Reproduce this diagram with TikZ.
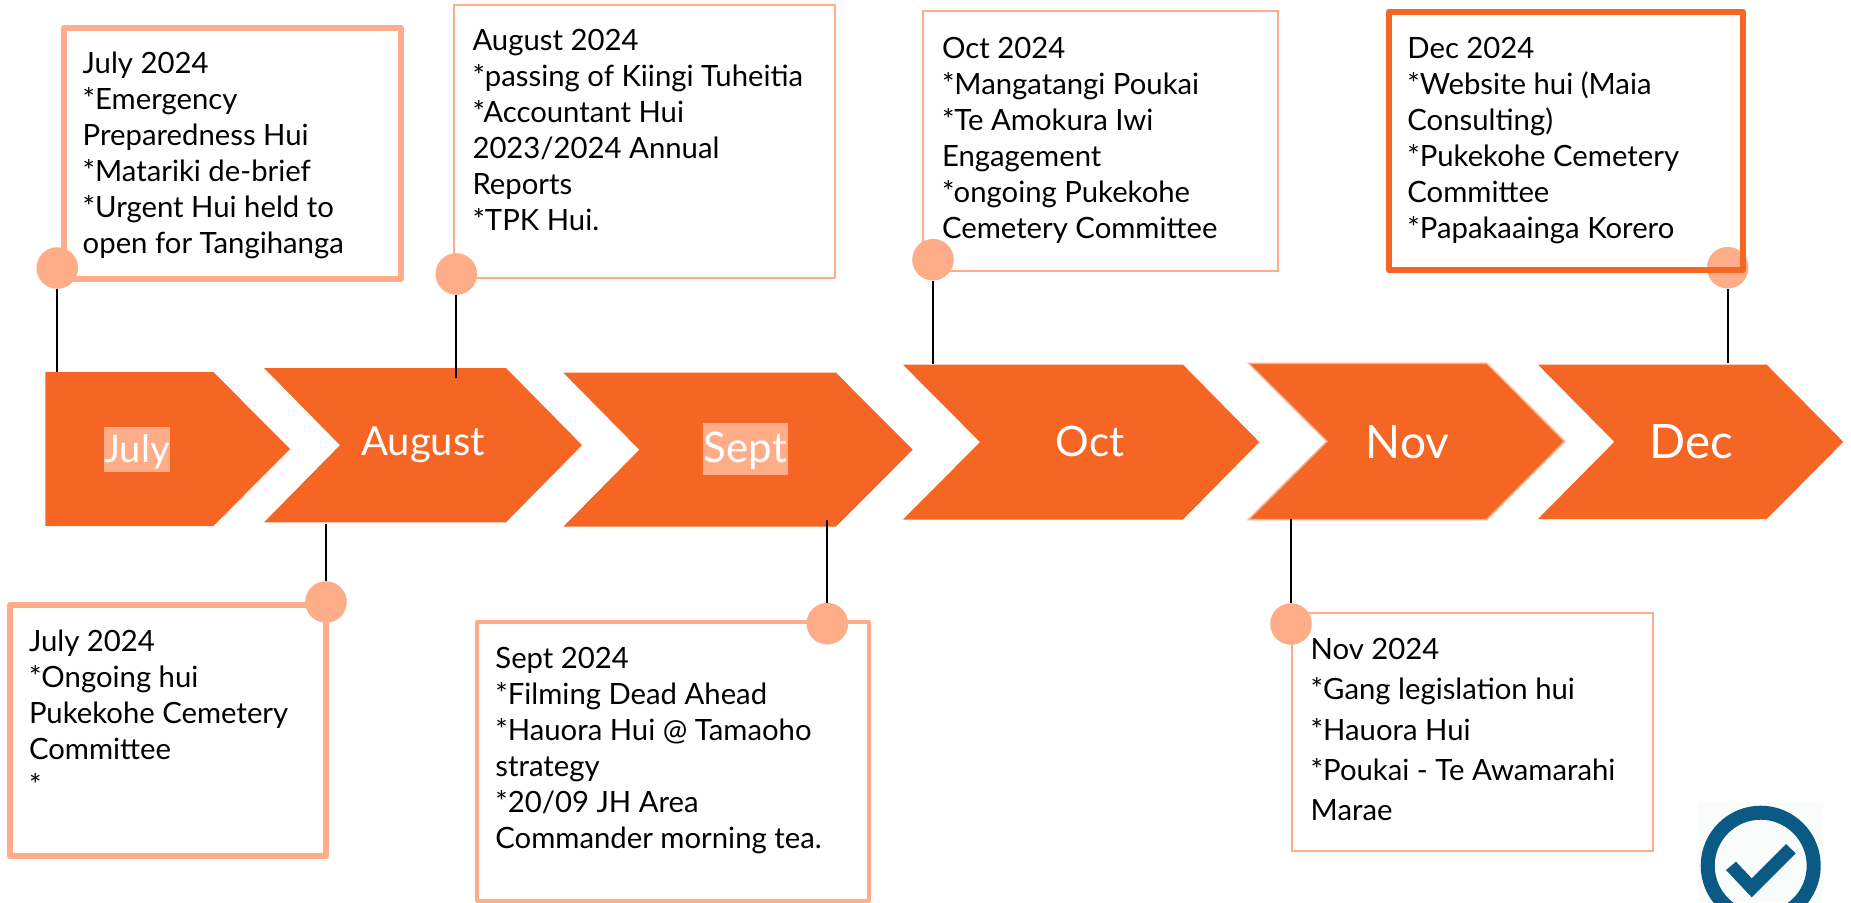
\documentclass[tikz,border=0pt]{standalone}
\usepackage{fontspec}
\setmainfont{Lato}
\definecolor{orangeA}{HTML}{F56624}
\definecolor{peach}{HTML}{FFAD88}
\definecolor{tick}{HTML}{0B5A85}
\newcommand{\fs}{\rule{0pt}{25pt}}
\newcommand{\chevshape}[7]{% name left notch rt tip top bot
  \path[#1] (#2,#6) -- (#4,#6) -- (#5,{(#6+#7)/2}) -- (#4,#7) -- (#2,#7) -- (#3,{(#6+#7)/2}) -- cycle;}
\newcommand{\boxat}[6]{% style name x1 y1 x2 y2
  \node[#1,minimum width={(#5-#3)*1pt},minimum height={(#6-#4)*1pt}] (#2) at ({(#3+#5)/2},{(#4+#6)/2}) {};}
\tikzset{
  chev/.style={fill=orangeA},
  chevedge/.style={fill=orangeA,draw=peach,line width=1.5pt,line join=miter},
  thickbox/.style={draw=peach,line width=5.8pt,line join=round,inner sep=0pt},
  midbox/.style={draw=peach,line width=4pt,line join=round,inner sep=0pt},
  thinbox/.style={draw=peach,line width=2pt,inner sep=0pt},
  darkbox/.style={draw=orangeA,line width=6pt,line join=round,inner sep=0pt},
  dot/.style={circle,fill=peach,minimum size=41.6pt,inner sep=0pt},
  conn/.style={draw=black,line width=1.8pt},
  body/.style={anchor=north west,align=left,inner sep=0pt,text=black,font=\fontsize{29.3}{36}\selectfont},
  bodywide/.style={body,font=\fontsize{29.3}{40.4}\selectfont},
  lab/.style={anchor=base,inner sep=0pt,text=white},
}
\begin{document}
\begin{tikzpicture}[x=1pt,y=-1pt]
\useasboundingbox (0,0) rectangle (1851,902);
\clip (0,0) rectangle (1851,902);
% chevrons
\chevshape{chev}{45.4}{45.4}{213.4}{290}{372}{526}
\chevshape{chev}{264}{340}{506}{582}{368}{522.3}
\chevshape{chev}{563.3}{639.3}{836}{912.7}{372.7}{526.7}
\chevshape{chev}{903}{980}{1183}{1259.3}{364.7}{519.5}
\chevshape{chevedge}{1248.6}{1327}{1486.7}{1564.6}{363.3}{519.5}
\chevshape{chev}{1538}{1614.3}{1766.7}{1843.3}{364.7}{519}
% month labels
\node[lab,fill=peach,minimum width=66pt,text height=35.5pt,text depth=9.5pt,font=\fontsize{38}{44}\selectfont] (julyL) at (137,462.5) {July};
\node[lab,font=\fontsize{40}{44}\selectfont] (augL) at (423,455.5) {August};
\node[lab,fill=peach,minimum width=85pt,text height=39.7pt,text depth=12pt,font=\fontsize{42}{48}\selectfont] (septL) at (745.5,462.7) {Sept};
\node[lab,font=\fontsize{42}{48}\selectfont] (octL) at (1090,456.5) {Oct};
\node[lab,font=\fontsize{46}{52}\selectfont] (novL) at (1407.5,458.3) {Nov};
\node[lab,font=\fontsize{47.5}{52}\selectfont] (decL) at (1691,458.3) {Dec};
% boxes
\boxat{thickbox}{b1}{64.3}{27.6}{400.7}{279}
\boxat{thinbox}{b2}{454}{4.5}{834.5}{277.5}
\boxat{thinbox}{b4}{923.3}{11.2}{1278}{270.5}
\boxat{thickbox}{b7}{10.2}{604.6}{326.2}{856.2}
\boxat{midbox}{b8}{477.3}{622}{869.3}{900.5}
\boxat{thinbox}{b9}{1292}{612.8}{1653}{850.7}
% dots
\node[dot] (d1) at (57.3,268) {};
\node[dot] (d2) at (456.3,274) {};
\node[dot] (d4) at (933,259.7) {};
\node[dot] (d6) at (1727.7,267.7) {};
\node[dot] (d7) at (326,602) {};
\node[dot] (d8) at (827.3,623.7) {};
\node[dot] (d9) at (1291,624) {};
\boxat{darkbox}{b6}{1389}{11.7}{1742.7}{270.3}
% connector ends
\coordinate (e1) at (57.3,372);
\coordinate (e2) at (456.3,377.7);
\coordinate (e4) at (933,363.5);
\coordinate (e6) at (1727.7,362.7);
\coordinate (e7) at (326,524);
\coordinate (e8) at (827.3,520);
\coordinate (e9) at (1291,519);
\draw[conn] (d1.south) -- (e1);
\draw[conn] (d2.south) -- (e2);
\draw[conn] (d4.south) -- (e4);
\draw[conn] (d6.south) -- (e6);
\draw[conn] (e7) -- (d7.north);
\draw[conn] (e8) -- (d8.north);
\draw[conn] (e9) -- (d9.north);
% texts
\node[body] (t1) at (82.5,48.5) {\fs July 2024\\*Emergency\\Preparedness Hui\\*Matariki de-brief\\*Urgent Hui held to\\open for Tangihanga};
\node[body] (t2) at (472.3,25.5) {\fs August 2024\\*passing of Kiingi Tuheitia\\*Accountant Hui\\2023/2024 Annual\\Reports\\*TPK Hui.};
\node[body] (t4) at (941.8,33.5) {\fs Oct 2024\\*Mangatangi Poukai\\*Te Amokura Iwi\\Engagement\\*ongoing Pukekohe\\Cemetery Committee};
\node[body] (t6) at (1407.2,33.5) {\fs Dec 2024\\*Website hui (Maia\\Consulting)\\*Pukekohe Cemetery\\Committee\\*Papakaainga Korero};
\node[body] (t7) at (28.8,626) {\fs July 2024\\*Ongoing hui\\Pukekohe Cemetery\\Committee\\*};
\node[body] (t8) at (495.2,643) {\fs Sept 2024\\*Filming Dead Ahead\\*Hauora Hui @ Tamaoho\\strategy\\*20/09 JH Area\\Commander morning tea.};
\node[bodywide] (t9) at (1310.5,634) {\fs Nov 2024\\*Gang legislation hui\\*Hauora Hui\\*Poukai - Te Awamarahi\\Marae};
% badge
\fill[white!98!tick] (1698,803) rectangle (1822.7,902);
\node[circle,draw=tick,line width=14pt,minimum size=106pt,inner sep=0pt] (ring) at (1760.7,865.7) {};
\fill[tick] (1726,870) -- (1736,861.7) -- (1751.7,878.3) -- (1786,844) -- (1795.7,853.3) -- (1751.7,897.3) -- cycle;
\end{tikzpicture}
\end{document}
